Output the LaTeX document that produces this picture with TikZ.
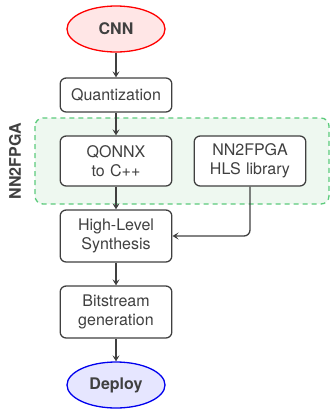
\documentclass[tikz,border=0pt]{standalone}
\usepackage{fontspec}
\setmainfont{TeX Gyre Heros}
\usetikzlibrary{arrows.meta,shapes.geometric}

\definecolor{txtgray}{HTML}{404040}
\definecolor{cnnred}{HTML}{FF0000}
\definecolor{cnnfill}{HTML}{FFE6E6}
\definecolor{depblue}{HTML}{0000EE}
\definecolor{depfill}{HTML}{E6E6FF}
\definecolor{grpgreen}{HTML}{5CCB7C}
\definecolor{grpfill}{HTML}{EEF8F0}

\tikzset{
  flowbox/.style={draw=txtgray, line width=1.3pt, rounded corners=6pt, fill=white,
    minimum width=109pt, text width=105pt, align=center, text=txtgray,
    font=\fontsize{16}{19.5}\selectfont},
  endpoint/.style={ellipse, line width=1.3pt, minimum width=98pt, minimum height=46pt,
    text=txtgray, font=\fontsize{16}{19.5}\selectfont\bfseries},
  flowarrow/.style={draw=txtgray, line width=1.3pt, -{Stealth[length=6pt,width=7pt,inset=2.5pt]}}
}

\begin{document}
\begin{tikzpicture}[x=1pt,y=-1pt]
  \useasboundingbox (0,0) rectangle (331,410);
  
  % Drawing NN2FPGA group
  \draw [grpgreen, fill=grpfill, line width=1.3pt, dash pattern=on 5pt off 4pt, rounded corners=8pt]
    (35,118) rectangle (329,204);
  \node [rotate=90, text=txtgray, font=\fontsize{16}{19.5}\selectfont\bfseries] (grplabel) at (15,161) {NN2FPGA};
  
  % Drawing flow nodes
  \node [endpoint, draw=cnnred, fill=cnnfill] (cnn) at (116,29) {CNN};
  \node [flowbox, minimum height=34pt] (quant) at (116,95) {Quantization};
  \node [flowbox, minimum height=50pt] (qonnx) at (116,161) {QONNX\\to C++};
  \node [flowbox, minimum height=50pt] (hlslib) at (250,161) {NN2FPGA\\HLS library};
  \node [flowbox, minimum height=52pt] (hls) at (116,236) {High-Level\\Synthesis};
  \node [flowbox, minimum height=52pt] (bits) at (116,312) {Bitstream\\generation};
  \node [endpoint, draw=depblue, fill=depfill] (deploy) at (116,385) {Deploy};
  
  % Drawing connectors
  \draw [flowarrow] (cnn) -- (quant);
  \draw [flowarrow] (quant) -- (qonnx);
  \draw [flowarrow] (qonnx) -- (hls);
  \draw [flowarrow, rounded corners=6pt] (hlslib.south) |- (hls.east);
  \draw [flowarrow] (hls) -- (bits);
  \draw [flowarrow] (bits) -- (deploy);
\end{tikzpicture}
\end{document}
